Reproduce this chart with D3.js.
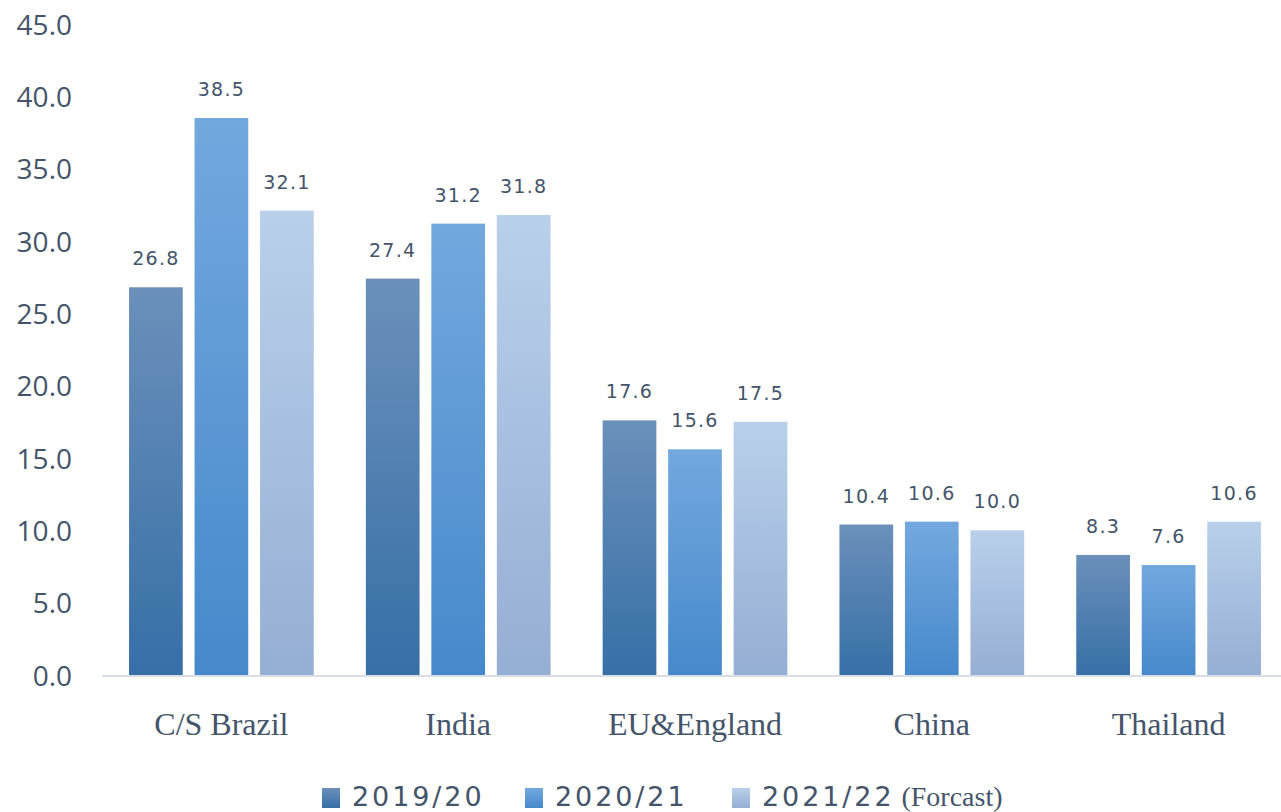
<!DOCTYPE html>
<html>
<head>
<meta charset="utf-8">
<script src="https://cdn.jsdelivr.net/npm/d3@7"></script>
<style>
  html, body { margin: 0; padding: 0; background: #ffffff; }
  svg { display: block; }
</style>
</head>
<body>
<svg id="chart" width="1281" height="812"></svg>
<script>
// Sugar production by region (million tonnes)
const regions = ["C/S Brazil", "India", "EU&England", "China", "Thailand"];
const seasons = ["2019/20", "2020/21", "2021/22"];
const seasonNotes = ["", "", "(Forcast)"];
const values2019 = [26.8, 27.4, 17.6, 10.4, 8.3];
const values2020 = [38.5, 31.2, 15.6, 10.6, 7.6];
const values2021 = [32.1, 31.8, 17.5, 10.0, 10.6];
const yTicks = [0, 5, 10, 15, 20, 25, 30, 35, 40, 45];

const seriesValues = [values2019, values2020, values2021];
const gradientStops = [
  ["#6a90ba", "#376fa7"],
  ["#73a8de", "#4689cb"],
  ["#b9d0eb", "#95aed3"]
];
const textColor = "#44546a";

const svg = d3.select("#chart");
const margin = { left: 103, right: -6, top: 24, bottom: 137 };
const width = 1281, height = 812;

const y = d3.scaleLinear().domain([0, 45]).range([height - margin.bottom, margin.top]);
const x0 = d3.scaleBand().domain(regions)
  .range([margin.left, width - margin.right]).paddingInner(0.22).paddingOuter(0.11);
const x1 = d3.scaleBand().domain(seasons).range([0, x0.bandwidth()]).paddingInner(0.18);

// vertical gradients, one per series
const defs = svg.append("defs");
gradientStops.forEach((stops, i) => {
  const g = defs.append("linearGradient").attr("id", "grad" + i)
    .attr("x1", 0).attr("y1", 0).attr("x2", 0).attr("y2", 1);
  g.append("stop").attr("offset", "0%").attr("stop-color", stops[0]);
  g.append("stop").attr("offset", "100%").attr("stop-color", stops[1]);
});

// y axis labels
const yAxis = d3.axisLeft(y).tickValues(yTicks).tickFormat(d3.format(".1f")).tickSize(0).tickPadding(0);
const yG = svg.append("g").attr("transform", `translate(72,0)`).call(yAxis);
yG.select(".domain").remove();
yG.selectAll("text")
  .attr("fill", textColor)
  .attr("font-family", "'Open Sans', sans-serif")
  .attr("font-size", "28px")
  .attr("dy", "0.36em");

// bars with value labels
const groups = svg.append("g").selectAll("g").data(regions).join("g")
  .attr("transform", d => `translate(${x0(d)},0)`);

groups.each(function(region, ri) {
  const g = d3.select(this);
  seasons.forEach((s, si) => {
    const v = seriesValues[si][ri];
    g.append("rect")
      .attr("x", x1(s))
      .attr("y", y(v))
      .attr("width", x1.bandwidth())
      .attr("height", y(0) - y(v))
      .attr("fill", `url(#grad${si})`);
    g.append("text")
      .attr("x", x1(s) + x1.bandwidth() / 2)
      .attr("y", y(v) - 22)
      .attr("text-anchor", "middle")
      .attr("fill", textColor)
      .attr("font-family", "'DejaVu Sans', sans-serif")
      .attr("font-size", "19px")
      .attr("letter-spacing", "1.3px")
      .text(v.toFixed(1));
  });
});

// baseline
svg.append("line")
  .attr("x1", margin.left - 1).attr("x2", width)
  .attr("y1", y(0) + 1).attr("y2", y(0) + 1)
  .attr("stroke", "#d9dee5").attr("stroke-width", 2);

// category axis
const xAxis = d3.axisBottom(x0).tickSize(0).tickPadding(0);
const xG = svg.append("g").attr("transform", `translate(0,${y(0)})`).call(xAxis);
xG.select(".domain").remove();
xG.selectAll("text")
  .attr("fill", textColor)
  .attr("font-family", "'Liberation Serif', serif")
  .attr("font-size", "32px")
  .attr("dy", 0)
  .attr("y", 60);

// legend
const legendX = [322, 525, 732];
const legend = svg.append("g");
seasons.forEach((s, i) => {
  const lg = legend.append("g").attr("transform", `translate(${legendX[i]},788)`);
  lg.append("rect").attr("width", 18).attr("height", 20).attr("fill", `url(#grad${i})`);
  const t = lg.append("text").attr("x", 30).attr("y", 18)
    .attr("fill", textColor)
    .attr("font-family", "'DejaVu Sans', sans-serif")
    .attr("font-size", "27px")
    .attr("letter-spacing", "2.9px");
  t.append("tspan").text(s);
  if (seasonNotes[i]) {
    t.append("tspan")
      .attr("dx", 7)
      .attr("font-family", "'Liberation Serif', serif")
      .attr("font-size", "28px")
      .attr("letter-spacing", "0px")
      .text(seasonNotes[i]);
  }
});
</script>
</body>
</html>
